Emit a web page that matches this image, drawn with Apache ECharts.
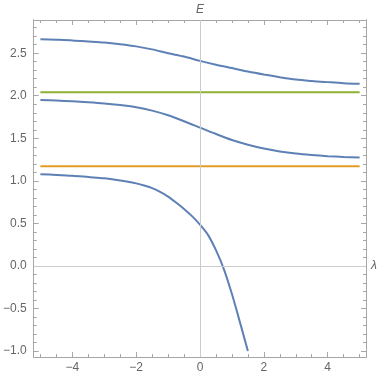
<!DOCTYPE html>
<html>
<head>
<meta charset="utf-8">
<script src="https://cdn.jsdelivr.net/npm/echarts@6/dist/echarts.min.js"></script>
<style>
  html, body { margin: 0; padding: 0; background: #fff; }
  #main { width: 382px; height: 376px; }
</style>
</head>
<body>
<div id="main"></div>
<script>
// eigenvalue curves E(lambda)
const lambdaGrid = [-5, -4.5, -4, -3.5, -3, -2.5, -2, -1.5, -1, -0.5, 0, 0.5, 1, 1.5, 2, 2.5, 3, 3.5, 4, 4.5, 5];
const upperE = [2.665, 2.658, 2.65, 2.638, 2.625, 2.605, 2.58, 2.545, 2.50, 2.46, 2.41,
                2.365, 2.325, 2.285, 2.25, 2.218, 2.19, 2.173, 2.16, 2.148, 2.14];
const middleE = [1.95, 1.943, 1.935, 1.924, 1.91, 1.89, 1.865, 1.825, 1.77, 1.70, 1.625,
                 1.55, 1.48, 1.425, 1.38, 1.345, 1.32, 1.303, 1.29, 1.28, 1.273];

const lowerLambda = [-5, -4.5, -4, -3.5, -3, -2.75, -2.5, -2.25, -2, -1.75, -1.5, -1.25, -1, -0.75, -0.5, -0.25,
                     0, 0.25, 0.5, 0.75, 1, 1.25, 1.5];
const lowerE = [1.078, 1.07, 1.06, 1.045, 1.03, 1.018, 1.005, 0.99, 0.97, 0.945, 0.915, 0.87, 0.815, 0.745, 0.67, 0.585,
                0.485, 0.365, 0.185, -0.04, -0.33, -0.66, -1.0];

const flatLambda = [-5, 5];
const orangeLevel = 1.172;
const greenLevel = 2.042;

// ticks
const xMajor = [-4, -2, 0, 2, 4];
const xMinor = [-5, -4.5, -3.5, -3, -2.5, -1.5, -1, -0.5, 0.5, 1, 1.5, 2.5, 3, 3.5, 4.5, 5];
const yMajor = [-1, -0.5, 0, 0.5, 1, 1.5, 2, 2.5];
const yMinor = [];
for (let k = -10; k <= 28; k++) if (k % 5 !== 0) yMinor.push(k / 10);

const pairs = (xs, ys) => xs.map((x, i) => [x, ys[i]]);

const blue = '#5E81B5', orange = '#E19C24', green = '#8FB032';
const frame = '#a6a6a6', zeroAxis = '#cccccc', textCol = '#666666';
const minus = s => String(s).replace('-', '\u2212');

const xRange = { min: -5.21, max: 5.2 };
const yRange = { min: -1.07, max: 2.89 };

function xAx(pos, ticks, len, labels) {
  return Object.assign({
    type: 'value', position: pos,
    axisLine: { show: true, onZero: false, lineStyle: { color: frame, width: 1 } },
    axisTick: { show: true, inside: true, length: len, customValues: ticks, lineStyle: { color: frame } },
    axisLabel: labels ? { show: true, customValues: xMajor, color: textCol, fontSize: 12, margin: 5,
      fontFamily: 'Liberation Sans, Arial, sans-serif', formatter: v => minus(v) } : { show: false },
    splitLine: { show: false }
  }, xRange);
}
function yAx(pos, ticks, len, labels) {
  return Object.assign({
    type: 'value', position: pos,
    axisLine: { show: true, onZero: false, lineStyle: { color: frame, width: 1 } },
    axisTick: { show: true, inside: true, length: len, customValues: ticks, lineStyle: { color: frame } },
    axisLabel: labels ? { show: true, customValues: yMajor, color: textCol, fontSize: 12, margin: 7,
      fontFamily: 'Liberation Sans, Arial, sans-serif', formatter: v => minus(v.toFixed(1)) } : { show: false },
    splitLine: { show: false }
  }, yRange);
}

const chart = echarts.init(document.getElementById('main'));

function curve(data, color) {
  return {
    type: 'line', data: data, xAxisIndex: 0, yAxisIndex: 0,
    smooth: 0.3, showSymbol: false, symbol: 'none', z: 3,
    lineStyle: { color: color, width: 2 }, silent: true
  };
}

chart.setOption({
  animation: false,
  grid: { left: 29, right: 16, top: 20, bottom: 19, containLabel: false },
  xAxis: [
    xAx('bottom', xMajor, 5, true),
    xAx('bottom', xMinor, 3, false),
    xAx('top', xMajor, 5, false),
    xAx('top', xMinor, 3, false)
  ],
  yAxis: [
    yAx('left', yMajor, 5, true),
    yAx('left', yMinor, 3, false),
    yAx('right', yMajor, 5, false),
    yAx('right', yMinor, 3, false)
  ],
  series: [
    {
      type: 'line', data: [], xAxisIndex: 0, yAxisIndex: 0, z: 1, silent: true,
      markLine: {
        silent: true, symbol: 'none', animation: false,
        lineStyle: { color: zeroAxis, type: 'solid', width: 1 },
        data: [
          { xAxis: 0, label: { formatter: 'E', position: 'end', distance: 4, color: textCol,
            fontStyle: 'italic', fontSize: 12, fontFamily: 'Liberation Sans, Arial, sans-serif' } },
          { yAxis: 0, label: { formatter: '\u03bb', position: 'end', distance: 5, color: textCol,
            fontStyle: 'italic', fontSize: 12, fontFamily: 'Liberation Sans, Arial, sans-serif' } }
        ]
      }
    },
    curve(pairs(lambdaGrid, upperE), blue),
    curve(pairs(lambdaGrid, middleE), blue),
    curve(pairs(lowerLambda, lowerE), blue),
    curve(flatLambda.map(x => [x, orangeLevel]), orange),
    curve(flatLambda.map(x => [x, greenLevel]), green)
  ]
});
</script>
</body>
</html>
